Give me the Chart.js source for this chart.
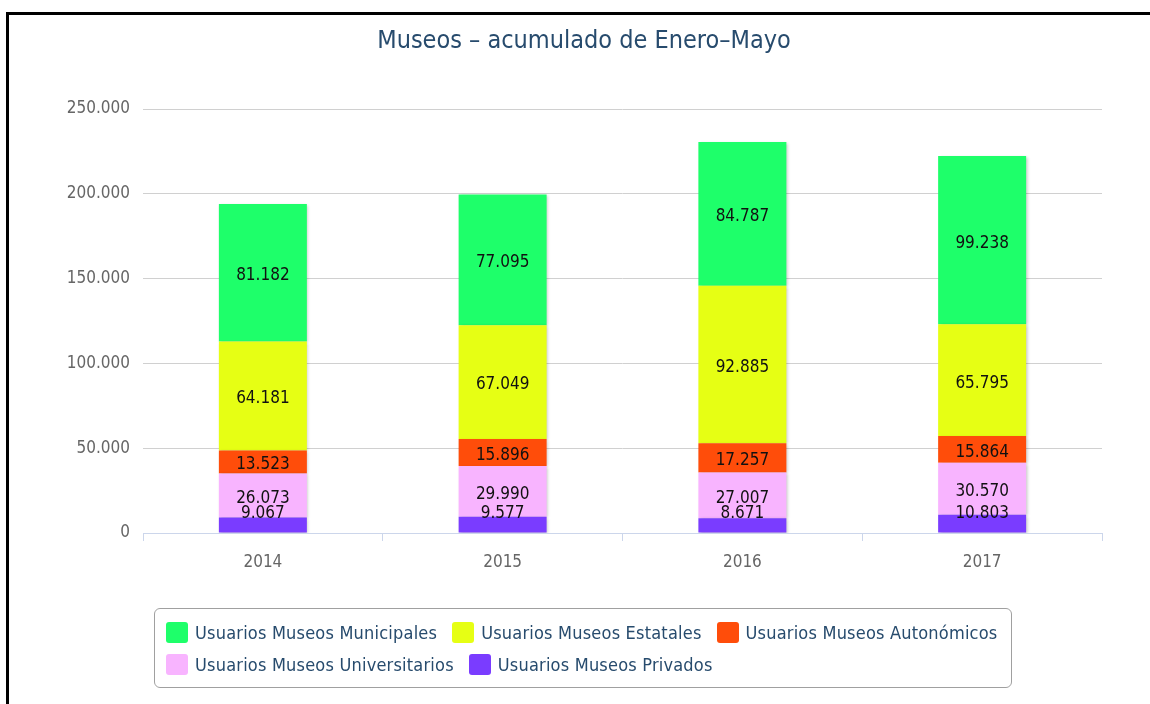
<!DOCTYPE html>
<html>
<head>
<meta charset="utf-8">
<script src="https://cdn.jsdelivr.net/npm/chart.js@4/dist/chart.umd.min.js"></script>
<style>
  html, body { margin: 0; padding: 0; background: #fff; overflow: hidden; }
  #frame { position: absolute; left: 6px; top: 12px; width: 1300px; height: 900px; border: 3px solid #000; }
  #myChart { position: absolute; left: 0; top: 0; }
  #legend {
    position: absolute; left: 154px; top: 608px; width: 845px; height: 61px;
    padding: 7px 0 10px 11px;
    border: 1.5px solid #a0a0a0; border-radius: 6px;
    display: flex; flex-wrap: wrap; align-content: flex-start; column-gap: 15px;
    font-family: 'DejaVu Sans Condensed', 'Liberation Sans Narrow', sans-serif;
    font-size: 18px; letter-spacing: 0.2px; color: #274b6d;
  }
  .item { display: flex; align-items: center; height: 32px; white-space: nowrap; }
  .sw { width: 22px; height: 21px; border-radius: 3px; margin-right: 7px; }
</style>
</head>
<body>
<div id="frame"></div>
<canvas id="myChart" width="1150" height="704"></canvas>
<div id="legend"></div>
<script>
const categories = ['2014', '2015', '2016', '2017'];
const municipales = [81182, 77095, 84787, 99238];
const estatales = [64181, 67049, 92885, 65795];
const autonomicos = [13523, 15896, 17257, 15864];
const universitarios = [26073, 29990, 27007, 30570];
const privados = [9067, 9577, 8671, 10803];

const yMax = 250000;
const yStep = 50000;

const FONT = "'DejaVu Sans Condensed', 'Liberation Sans Narrow', sans-serif";

function fmt(v) {
    return String(v).replace(/\B(?=(\d{3})+(?!\d))/g, '.');
}

// stacked bottom-up, legend shows them top-down
var series = [
    { label: 'Usuarios Museos Privados', data: privados, color: 'rgb(122, 60, 255)' },
    { label: 'Usuarios Museos Universitarios', data: universitarios, color: 'rgb(248, 180, 255)' },
    { label: 'Usuarios Museos Autonómicos', data: autonomicos, color: 'rgb(255, 77, 10)' },
    { label: 'Usuarios Museos Estatales', data: estatales, color: 'rgb(230, 255, 20)' },
    { label: 'Usuarios Museos Municipales', data: municipales, color: 'rgb(30, 255, 106)' }
];

// bar shadow + value labels
var barExtras = {
    id: 'barExtras',
    beforeDatasetsDraw(chart) {
        var ctx = chart.ctx;
        ctx.save();
        ctx.shadowColor = 'rgba(0, 0, 0, 0.22)';
        ctx.shadowBlur = 3;
        ctx.shadowOffsetX = 1.5;
        ctx.shadowOffsetY = 1;
    },
    afterDatasetsDraw(chart) {
        var ctx = chart.ctx;
        ctx.restore();
        ctx.save();
        ctx.font = '17px ' + FONT;
        ctx.fillStyle = '#111';
        ctx.textAlign = 'center';
        ctx.textBaseline = 'middle';
        chart.data.datasets.forEach(function (ds, i) {
            chart.getDatasetMeta(i).data.forEach(function (bar, j) {
                var yc = (bar.y + bar.base) / 2;
                var y = Math.min(yc, chart.chartArea.bottom - 22);
                ctx.fillText(fmt(ds.data[j]), bar.x, y + 3);
            });
        });
        ctx.restore();
    }
};

var ctx = document.getElementById('myChart').getContext('2d');
var chart = new Chart(ctx, {
    type: 'bar',
    data: {
        labels: categories,
        datasets: series.map(function (s) {
            return {
                label: s.label,
                data: s.data,
                backgroundColor: s.color,
                borderWidth: 0,
                barPercentage: 0.367,
                categoryPercentage: 1
            };
        })
    },
    options: {
        responsive: false,
        animation: false,
        devicePixelRatio: 1,
        layout: { padding: { left: 66, right: 48, top: 0, bottom: 131 } },
        plugins: {
            legend: { display: false },
            tooltip: { enabled: false },
            title: {
                display: true,
                text: 'Museos – acumulado de Enero–Mayo',
                color: '#274b6d',
                font: { family: FONT, size: 25, weight: 'normal' },
                padding: { top: 26, bottom: 53 }
            }
        },
        scales: {
            x: {
                stacked: true,
                grid: {
                    display: true,
                    drawOnChartArea: false,
                    drawTicks: true,
                    tickLength: 8,
                    color: '#ccd6eb',
                    offset: true
                },
                border: { display: true, color: '#ccd6eb', width: 1 },
                ticks: { color: '#666', font: { family: FONT, size: 17 }, padding: 11 },
                afterFit(s) { s.height = 40; }
            },
            y: {
                stacked: true,
                min: 0,
                max: yMax,
                ticks: {
                    stepSize: yStep,
                    color: '#666',
                    font: { family: FONT, size: 17 },
                    padding: 13,
                    callback: function (v) { return fmt(v); }
                },
                grid: {
                    drawTicks: false,
                    color: function (c) { return c.tick && c.tick.value === 0 ? 'rgba(0,0,0,0)' : '#d0d0d0'; }
                },
                border: { display: false },
                afterFit(s) { s.width = 77; }
            }
        }
    },
    plugins: [barExtras]
});

// legend, same order as the reference (top of stack first)
var legend = document.getElementById('legend');
series.slice().reverse().forEach(function (s) {
    var item = document.createElement('div');
    item.className = 'item';
    var sw = document.createElement('span');
    sw.className = 'sw';
    sw.style.background = s.color;
    var tx = document.createElement('span');
    tx.textContent = s.label;
    item.appendChild(sw);
    item.appendChild(tx);
    legend.appendChild(item);
});
</script>
</body>
</html>
